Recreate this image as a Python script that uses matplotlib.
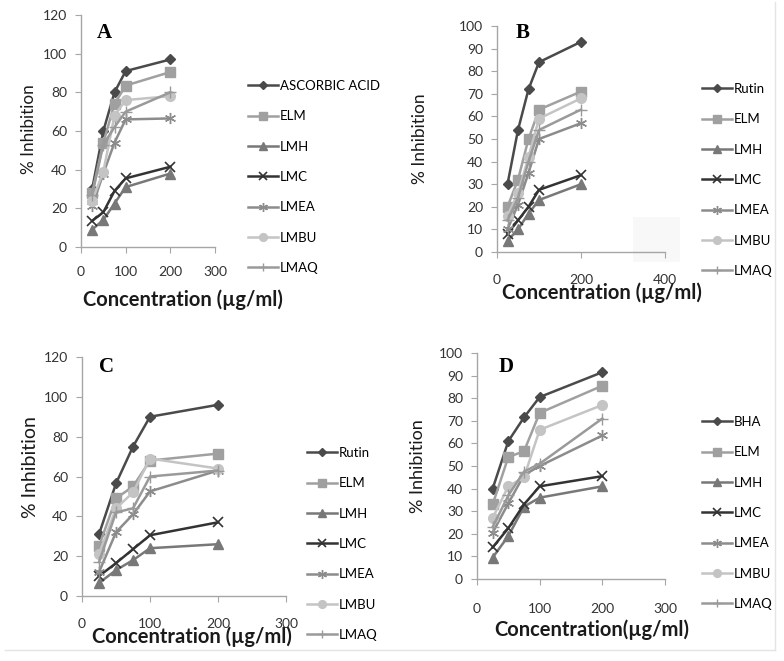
import numpy as np
import matplotlib.pyplot as plt
from matplotlib.lines import Line2D
from matplotlib.patches import Rectangle

conc = [25, 50, 75, 100, 200]
names = ['ELM', 'LMH', 'LMC', 'LMEA', 'LMBU', 'LMAQ']

# panel A (standard: ascorbic acid)
a_std = [30, 60, 80, 91, 97]
a_elm = [28, 54, 74, 83.5, 90.5]
a_lmh = [9, 14, 22.5, 31, 38]
a_lmc = [13.5, 18, 29, 35.5, 41.5]
a_lmea = [21, 38, 54, 66, 66.5]
a_lmbu = [24, 39, 68, 76, 78]
a_lmaq = [27, 53, 62, 70, 80]

# panel B (standard: rutin)
b_std = [30, 54, 72, 84, 93]
b_elm = [20, 32, 50, 63, 71]
b_lmh = [5, 10, 17, 23, 30]
b_lmc = [8, 14, 20, 27.5, 34]
b_lmea = [10, 21, 35, 50, 57]
b_lmbu = [16, 26, 42, 59, 68]
b_lmaq = [14, 24, 40, 54, 63]

# panel C (standard: rutin)
c_std = [31, 56.5, 75, 90, 96]
c_elm = [25, 49, 55, 68, 71.5]
c_lmh = [6.5, 13, 18, 24, 26]
c_lmc = [10, 16.5, 23.5, 30.5, 37]
c_lmea = [12, 32, 41, 52.5, 63]
c_lmbu = [21, 44, 52, 69, 64]
c_lmaq = [17, 42, 44, 60, 63]

# panel D (standard: BHA)
d_std = [40, 61, 71.5, 80.5, 91.5]
d_elm = [33, 54, 56.5, 73.5, 85.5]
d_lmh = [9.5, 19, 32, 36, 41]
d_lmc = [14, 22.5, 33, 41, 45.5]
d_lmea = [20.5, 33.5, 46, 50, 63.5]
d_lmbu = [27, 41, 45, 66, 77]
d_lmaq = [23, 37, 47.5, 51, 71]

styles = [
    dict(color='#4a4a4a', marker='D', ms=5.5),
    dict(color='#a0a0a0', marker='s', ms=7),
    dict(color='#787878', marker='^', ms=7),
    dict(color='#333333', marker='x', ms=7, mew=1.2),
    dict(color='#8c8c8c', marker=(6, 2, 0), ms=8, mew=1.0),
    dict(color='#c4c4c4', marker='o', ms=7),
    dict(color='#9a9a9a', marker='+', ms=8, mew=1.0),
]

# pixel layout: axes box, label centres, legend first row, letter baseline
panels = [
    dict(label='A', std='ASCORBIC ACID', data=[a_std, a_elm, a_lmh, a_lmc, a_lmea, a_lmbu, a_lmaq],
         rect=(81, 15, 215, 247), ymax=120, ystep=20, xticks=[0, 100, 200, 300], xmax=300,
         xlab='Concentration (\u00b5g/ml)', xlab_pos=(183, 300), ylab_pos=(29, 129), ylab_size=12.3,
         leg=(248, 88), letter=(97, 38), xpad=10),
    dict(label='B', std='Rutin', data=[b_std, b_elm, b_lmh, b_lmc, b_lmea, b_lmbu, b_lmaq],
         rect=(497, 26, 665, 252), ymax=100, ystep=10, xticks=[0, 200, 400], xmax=400,
         xlab='Concentration (\u00b5g/ml)', xlab_pos=(602, 293), ylab_pos=(420, 139), ylab_size=12.5,
         leg=(702, 91), letter=(516, 38), xpad=11.5),
    dict(label='C', std='Rutin', data=[c_std, c_elm, c_lmh, c_lmc, c_lmea, c_lmbu, c_lmaq],
         rect=(82, 357, 286, 596), ymax=120, ystep=20, xticks=[0, 100, 200, 300], xmax=300,
         xlab='Concentration (\u00b5g/ml)', xlab_pos=(192, 637), ylab_pos=(30, 467), ylab_size=14,
         leg=(307, 455), letter=(99, 372), xpad=12),
    dict(label='D', std='BHA', data=[d_std, d_elm, d_lmh, d_lmc, d_lmea, d_lmbu, d_lmaq],
         rect=(477, 353, 665, 579), ymax=100, ystep=10, xticks=[0, 100, 200, 300], xmax=300,
         xlab='Concentration(\u00b5g/ml)', xlab_pos=(592, 630), ylab_pos=(418, 466), ylab_size=13,
         leg=(702, 424), letter=(499, 372), xpad=13),
]

W, H = 784, 661
fig = plt.figure(figsize=(W / 100, H / 100), dpi=100)
font = 'Lato'

# faint leftovers of the scanned figure
fig.add_artist(Rectangle((633 / W, 1 - 262 / H), 47 / W, 45 / H, color='#f8f8f8', lw=0, zorder=0))
fig.add_artist(Line2D([775 / W, 775 / W], [1 - 2 / H, 1 - 650 / H], color='#e4e4e4', lw=1))
fig.add_artist(Line2D([5 / W, 775 / W], [1 - 650 / H, 1 - 650 / H], color='#e4e4e4', lw=1))

for p in panels:
    x0, y0, x1, y1 = p['rect']
    ax = fig.add_axes([x0 / W, 1 - y1 / H, (x1 - x0) / W, (y1 - y0) / H])
    handles = []
    for vals, st in zip(p['data'], styles):
        ln, = ax.plot(conc, vals, lw=1.8, color=st['color'], marker=st['marker'],
                      ms=st['ms'], mew=st.get('mew', 1), mfc=st['color'], mec=st['color'])
        handles.append(ln)
    ax.set_xlim(0, p['xmax'])
    ax.set_ylim(0, p['ymax'])
    ax.set_xticks(p['xticks'])
    ax.set_yticks(np.arange(0, p['ymax'] + 1, p['ystep']))
    for s in ['top', 'right']:
        ax.spines[s].set_visible(False)
    for s in ['left', 'bottom']:
        ax.spines[s].set_color('#a6a6a6')
        ax.spines[s].set_linewidth(1.0)
    ax.tick_params(axis='both', colors='#a6a6a6', labelcolor='#333333', length=4,
                   labelsize=10)
    ax.tick_params(axis='x', pad=p['xpad'])
    ax.tick_params(axis='y', pad=6)
    for t in ax.get_xticklabels() + ax.get_yticklabels():
        t.set_fontfamily(font)
    ax.patch.set_alpha(0)

    lx, ly = p['letter']
    fig.text(lx / W, 1 - ly / H, p['label'], ha='left', va='baseline',
             fontsize=15, fontweight='bold', family='Liberation Serif')
    fig.text(p['xlab_pos'][0] / W, 1 - p['xlab_pos'][1] / H, p['xlab'], ha='center', va='center',
             fontsize=14.5, fontweight='bold', family=font, color='#1a1a1a')
    fig.text(p['ylab_pos'][0] / W, 1 - p['ylab_pos'][1] / H, '% Inhibition', ha='center',
             va='center', rotation=90, fontsize=p['ylab_size'], family=font, color='#1a1a1a')

    lx, ly = p['leg']
    fig.legend(handles, [p['std']] + names, loc='upper left',
               bbox_to_anchor=(lx / W, 1 - (ly - 8) / H), frameon=False,
               prop={'family': font, 'size': 9.5}, handlelength=2.3,
               handletextpad=0.1, labelspacing=1.39, borderpad=0, borderaxespad=0,
               markerscale=0.8)

fig.savefig('out.png', dpi=100)
